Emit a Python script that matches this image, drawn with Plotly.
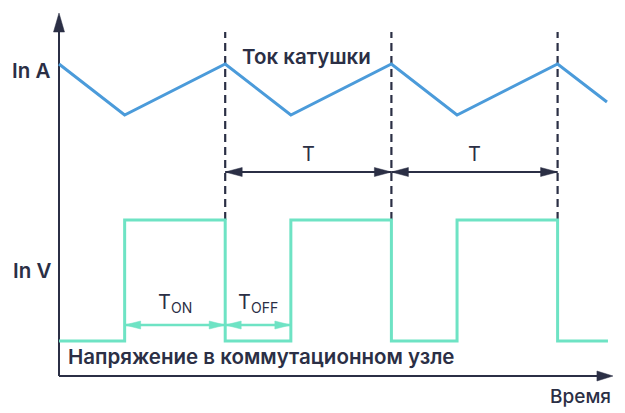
import plotly.graph_objects as go

# ---------------- data ----------------
# time in arbitrary units (switching period = 10), levels in arbitrary units
period = 10.0
t_off = 3.95
current_t = [0, 3.95, 10, 13.95, 20, 23.95, 30, 32.97]
current_v = [312, 261, 312, 261, 312, 261, 312, 274]
voltage_t = [0, 3.95, 10, 13.95, 20, 23.95, 30, 33.03]
voltage_v = [35, 156, 35, 156, 35, 156, 35, 35]
switch_t = [10, 20, 30]          # switching instants (dashed markers)
dash_top = 344
axis_x_end = 33.33
axis_y_end = 363
period_arrow_y = 204
phase_arrow_y = 51

DARK = "#2B2F45"
BLUE = "#4B9BDA"
TEAL = "#6EE3C4"
FONT = "Inter"

S = 16.62  # px per time unit
X0 = 59.0  # px of t=0
Y0 = 376.0  # px of level 0 (levels are 1 px each)

def px_x(px):
    return (px - X0) / S

def head(tip_x, tip_y, dx, dy, length_px, half_px):
    """triangle arrow head polygon in data units; (dx,dy) unit direction in px space."""
    bx = tip_x - dx * length_px / S
    by = tip_y - dy * length_px
    px_, py_ = -dy, dx
    return ([tip_x, bx + px_ * half_px / S, bx - px_ * half_px / S, tip_x, None],
            [tip_y, by + py_ * half_px, by - py_ * half_px, tip_y, None])

fig = go.Figure()

# axes lines
fig.add_trace(go.Scatter(x=[0, 0], y=[0, axis_y_end - 10], mode="lines",
                         line=dict(color=DARK, width=2), hoverinfo="skip"))
fig.add_trace(go.Scatter(x=[0, axis_x_end - 0.5], y=[0, 0], mode="lines",
                         line=dict(color=DARK, width=2), hoverinfo="skip"))

# dashed switching lines
for t in switch_t:
    fig.add_trace(go.Scatter(x=[t, t], y=[voltage_v[1], dash_top], mode="lines",
                             line=dict(color=DARK, width=2.2, dash="8px,5px"),
                             hoverinfo="skip"))

# inductor current
fig.add_trace(go.Scatter(x=current_t, y=current_v, mode="lines",
                         line=dict(color=BLUE, width=3), hoverinfo="skip"))
# switching node voltage
fig.add_trace(go.Scatter(x=voltage_t, y=voltage_v, mode="lines",
                         line=dict(color=TEAL, width=3, shape="hv"), hoverinfo="skip"))

# arrow shafts
for a, b in [(switch_t[0], switch_t[1]), (switch_t[1], switch_t[2])]:
    fig.add_trace(go.Scatter(x=[a, b], y=[period_arrow_y] * 2, mode="lines",
                             line=dict(color=DARK, width=2), hoverinfo="skip"))
for a, b in [(t_off, period), (period, period + t_off)]:
    fig.add_trace(go.Scatter(x=[a, b], y=[phase_arrow_y] * 2, mode="lines",
                             line=dict(color=TEAL, width=2.5), hoverinfo="skip"))

# arrow heads
dark_x, dark_y, teal_x, teal_y = [], [], [], []
hx, hy = head(0, axis_y_end, 0, 1, 19, 5.5)
dark_x += hx; dark_y += hy
hx, hy = head(axis_x_end, 0, 1, 0, 16, 5)
dark_x += hx; dark_y += hy
for a, b in [(switch_t[0], switch_t[1]), (switch_t[1], switch_t[2])]:
    for tip, d in [(a, -1), (b, 1)]:
        hx, hy = head(tip, period_arrow_y, d, 0, 17, 4.5)
        dark_x += hx; dark_y += hy
for a, b in [(t_off, period), (period, period + t_off)]:
    for tip, d in [(a, -1), (b, 1)]:
        hx, hy = head(tip, phase_arrow_y, d, 0, 16, 4)
        teal_x += hx; teal_y += hy
fig.add_trace(go.Scatter(x=dark_x, y=dark_y, mode="lines", fill="toself",
                         fillcolor=DARK, line=dict(color=DARK, width=0.5),
                         hoverinfo="skip"))
fig.add_trace(go.Scatter(x=teal_x, y=teal_y, mode="lines", fill="toself",
                         fillcolor=TEAL, line=dict(color=TEAL, width=0.5),
                         hoverinfo="skip"))

def label(text, x, y, size=20.5, weight=600, xanchor="center"):
    fig.add_annotation(x=x, y=y, xref="x", yref="y", text=text, showarrow=False,
                       xanchor=xanchor, yanchor="middle",
                       font=dict(family=FONT, size=size, color=DARK, weight=weight))

label("In A", px_x(31), current_v[0] - 6)
label("In V", px_x(32), Y0 - 270)
label("Ток катушки", px_x(306), Y0 - 56)
label("Напряжение в коммутационном узле", px_x(66), Y0 - 356, xanchor="left")
label("Время", px_x(613), Y0 - 396, size=19, weight=500, xanchor="right")
label("T", (switch_t[0] + switch_t[1]) / 2, Y0 - 154, size=20, weight=400)
label("T", (switch_t[1] + switch_t[2]) / 2, Y0 - 154, size=20, weight=400)
label("T<sub>ON</sub>", (t_off + period) / 2, Y0 - 303, size=20, weight=400)
label("T<sub>OFF</sub>", period + t_off / 2, Y0 - 303, size=20, weight=400)

fig.update_layout(
    width=625, height=413, margin=dict(l=0, r=0, t=0, b=0),
    paper_bgcolor="white", plot_bgcolor="white", showlegend=False,
    xaxis=dict(range=[px_x(0), px_x(625)], visible=False, fixedrange=True),
    yaxis=dict(range=[Y0 - 413, Y0], visible=False, fixedrange=True),
)

fig.write_html("out.html", config={"displayModeBar": False},
               post_script="document.body.style.margin='0';document.body.style.overflow='hidden';")
